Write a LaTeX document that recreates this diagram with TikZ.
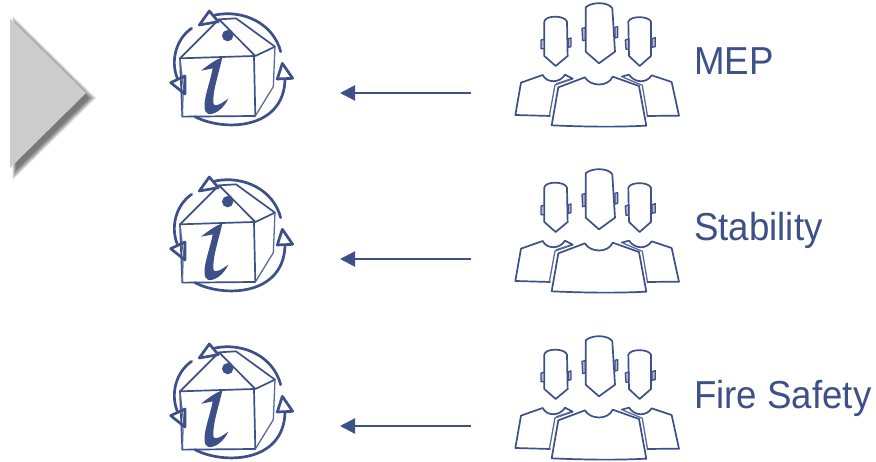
\documentclass[tikz,border=0pt]{standalone}
\usepackage{fontspec}
\setmainfont[FakeStretch=0.94]{Liberation Sans}
\usetikzlibrary{arrows.meta}
\definecolor{ink}{HTML}{3D5088}
\tikzset{
  sk/.style={draw=ink,line width=1.7pt,line join=round,line cap=round},
  skb/.style={draw=ink,line width=2.7pt,line join=round,line cap=round},
  thinsk/.style={draw=ink!85,line width=1.3pt,line join=round,line cap=round},
  ear/.style={draw=ink,fill=ink!40,line width=1.3pt,line join=round},
  lab/.style={text=ink,font=\fontsize{39pt}{44pt}\selectfont,anchor=base west,inner sep=0pt},
  flow/.style={draw=ink,line width=2.2pt,-{Triangle[length=15pt,width=15pt]}},
  houseicon/.pic={
    \begin{scope}[x=0.3333pt,y=-0.3333pt]
      \draw[sk] (90,175) -- (312,168) -- (316,348) -- (97,350) -- cycle;
      \draw[thinsk] (90,178) -- (100,260) -- (97,350);
      \draw[sk] (90,175) -- (207,58) -- (316,168) -- (375,140) -- (258,55) -- (207,58);
      \draw[thinsk] (375,140) -- (370,260) -- (316,348);
      \fill[ink] (233,107) circle[radius=17];
      \fill[ink] (153,212) .. controls (175,195) and (195,180) .. (217,172)
        .. controls (208,215) and (188,270) .. (190,310)
        .. controls (192,320) and (205,318) .. (235,296)
        .. controls (222,325) and (195,345) .. (175,342)
        .. controls (160,338) and (162,310) .. (168,285)
        .. controls (175,255) and (185,225) .. (188,205)
        .. controls (175,208) and (165,210) .. (153,212) -- cycle;
      \draw[skb] (195,45) .. controls (280,28) and (370,70) .. (392,155);
      \draw[skb] (125,85) .. controls (80,115) and (60,180) .. (82,235);
      \draw[skb] (135,350) .. controls (220,395) and (400,390) .. (405,240);
      \draw[skb] (178,33) -- (148,75) -- (205,65) -- cycle;
      \draw[skb] (105,228) -- (62,248) -- (105,282) -- cycle;
      \draw[skb] (397,190) -- (382,237) -- (428,235) -- cycle;
    \end{scope}
  },
  peopleicon/.pic={
    \begin{scope}[x=0.3333pt,y=-0.3333pt]
      % left head
      \draw[sk] (118,65) .. controls (120,45) and (180,45) .. (186,65)
        -- (188,168) -- (152,198) -- (118,168) -- cycle;
      \draw[ear] (108,120) -- (118,118) -- (118,146) -- (108,146) -- cycle;
      \draw[ear] (190,116) -- (198,114) -- (198,140) -- (190,142) -- cycle;
      % centre head
      \draw[sk] (242,22) .. controls (260,5) and (310,5) .. (322,25)
        -- (330,155) -- (282,190) -- (242,155) -- cycle;
      \draw[ear] (231,85) -- (241,83) -- (241,120) -- (233,122) -- cycle;
      \draw[ear] (330,82) -- (338,80) -- (338,112) -- (330,114) -- cycle;
      % right head
      \draw[sk] (370,65) .. controls (376,47) and (430,47) .. (438,65)
        -- (438,168) -- (404,198) -- (372,168) -- cycle;
      \draw[ear] (361,120) -- (371,117) -- (371,148) -- (363,148) -- cycle;
      \draw[ear] (441,116) -- (451,113) -- (451,140) -- (441,142) -- cycle;
      % left body
      \draw[sk] (135,348) -- (31,345) -- (48,248) -- (113,225)
        .. controls (125,250) and (165,250) .. (180,224) -- (203,236) -- (155,252);
      % right body
      \draw[sk] (350,230) -- (372,224) .. controls (390,250) and (425,250) .. (440,226)
        -- (500,246) -- (522,347) -- (427,348);
      % centre body
      \draw[sk] (140,376) -- (160,262) -- (240,232)
        .. controls (255,260) and (310,262) .. (323,230)
        -- (402,258) -- (424,377) .. controls (330,382) and (230,380) .. (140,376) -- cycle;
      \draw[thinsk] (133,348) -- (150,255) -- (195,238);
      \draw[thinsk] (355,232) -- (412,256) -- (427,345);
    \end{scope}
  }
}
\begin{document}
\begin{tikzpicture}[x=1pt,y=-1pt]
\useasboundingbox (0,0) rectangle (876,462);
\fill[white] (0,0) rectangle (876,462);
\foreach \s in {1.10,1.08,1.06,1.04,1.02,1.00,0.98,0.96}{
  \fill[black,opacity=0.085] (40,98) ++({-25*\s},{-74.7*\s}) -- ++({76*\s},{74.7*\s}) -- ++({-76*\s},{74.7*\s}) -- cycle;
}
\fill[fill=black!20] (10,18.3) -- (86,93) -- (10,168) -- cycle;

\foreach \n/\dy/\t in {a/0/MEP,b/166/Stability,c/333/Fire Safety}{
  \pic at (150,\dy) {houseicon};
  \pic at (505,\dy) {peopleicon};
  \coordinate (from\n) at (471,93+\dy);
  \coordinate (to\n) at (340,93+\dy);
  \draw[flow] (from\n) -- (to\n);
  \node[lab] (label\n) at (694,75+\dy) {\t};
}
\end{tikzpicture}
\end{document}
